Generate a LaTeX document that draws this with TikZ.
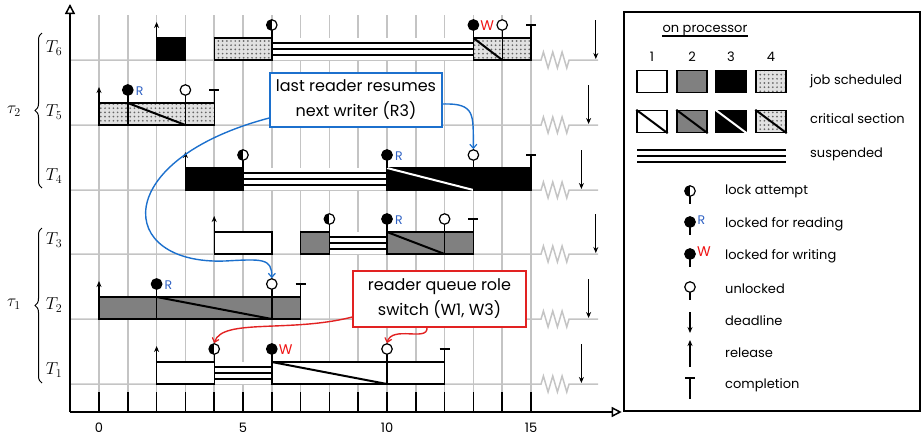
\documentclass[tikz,border=0pt]{standalone}
\usepackage{fontspec}
\setsansfont{Poppins}
\usetikzlibrary{arrows.meta,patterns.meta,decorations.pathreplacing}

\definecolor{noteblue}{RGB}{28,112,205}
\definecolor{notered}{RGB}{226,34,34}
\definecolor{readblue}{RGB}{48,98,196}
\definecolor{writered}{RGB}{240,20,20}
\definecolor{gridgray}{RGB}{196,196,196}
\definecolor{procgray}{RGB}{128,128,128}
\definecolor{dotbg}{RGB}{225,225,225}

\tikzset{
  boxline/.style={line width=1.4pt, draw=black},
  proc1/.style={boxline, fill=white},
  proc2/.style={boxline, fill=procgray},
  proc3/.style={boxline, fill=black},
  proc4/.style={boxline, preaction={fill=dotbg},
    pattern={Dots[distance=4.2pt, radius=0.95pt]}, pattern color=black!60},
  diag/.style={line width=2pt, draw=black},
  diagw/.style={line width=2pt, draw=white},
  suspline/.style={line width=1.8pt, draw=black},
  stem/.style={line width=1.4pt, draw=black},
  pinhead/.style={circle, draw=black, line width=1.2pt, minimum size=10.5pt, inner sep=0pt},
  lockatt/.style={pinhead, fill=white, path picture={\fill[black]
    (path picture bounding box.south) rectangle (path picture bounding box.north west);}},
  lockheld/.style={pinhead, fill=black},
  unlockpin/.style={pinhead, fill=white},
  rlab/.style={anchor=west, inner sep=0.5pt, text=readblue, font=\sffamily\fontsize{12.5}{12.5}\selectfont},
  wlab/.style={anchor=west, inner sep=0.5pt, text=writered, font=\sffamily\fontsize{14}{14}\selectfont},
  relarrow/.style={line width=1.3pt, -{Stealth[length=6pt, width=5pt]}},
  dlarrow/.style={line width=1.3pt, -{Stealth[length=6pt, width=5pt]}},
  gridline/.style={draw=gridgray, line width=1.5pt},
  axisline/.style={line width=1.8pt, -{Triangle[open, length=10pt, width=10pt, line width=1.5pt]}},
  tick/.style={line width=1.5pt},
  ticklab/.style={font=\sffamily\fontsize{13}{13}\selectfont},
  tasklab/.style={font=\fontsize{18}{18}\selectfont},
  lbl/.style={font=\sffamily\fontsize{13}{15}\selectfont, inner sep=0pt},
  callout/.style={draw, line width=1.5pt, fill=white, align=center,
    font=\sffamily\fontsize{16}{25}\selectfont, inner sep=0pt},
  notearrow/.style={line width=1.4pt, -{Straight Barb[length=4pt, width=7pt, line width=1.2pt]}},
  legsq/.style={minimum width=30pt, minimum height=22pt}
}

% one scheduled interval: style, start, end, baseline
\newcommand\job[4]{\draw[#1] (#2,{#4-22}) rectangle (#3,#4);}
% critical section: box style, start, end, baseline, diagonal style
\newcommand\csec[5]{\draw[#1] (#2,{#4-22}) rectangle (#3,#4);
  \draw[#5] (#2,{#4-22}) -- (#3,#4);}
% suspension: start, end, baseline
\newcommand\susp[3]{\fill[white] (#1,{#3-22}) rectangle (#2,#3);
  \foreach \dy in {5,11,17}{\draw[suspline] (#1,{#3-22+\dy}) -- (#2,{#3-22+\dy});}}
% lock pin: style, name, time, baseline
\newcommand\lockpin[4]{\draw[stem] (#3,{#4-22}) -- (#3,{#4-35});
  \node[#1] (#2) at (#3,{#4-35}) {};}
\newcommand\release[2]{\draw[relarrow] (#1,{#2-22}) -- (#1,{#2-38});}
\newcommand\finish[2]{\draw[stem] (#1,{#2-22}) -- (#1,{#2-35}) ++(-5pt,0) -- ++(10pt,0);}
\newcommand\deadline[2]{\draw[dlarrow] (#1,{#2-40}) -- (#1,{#2-1});}
% task baseline with the zigzag break
\newcommand\taskline[1]{\draw[gridline] (-1.007,#1) -- (15.35,#1)
  -- ++(2.33pt,8pt) -- ++(4.67pt,-16pt) -- ++(4.67pt,16pt) -- ++(4.67pt,-16pt)
  -- ++(4.67pt,16pt) -- ++(4.67pt,-16pt) -- ++(2.33pt,8pt) -- (17.33,#1);}

\begin{document}
\begin{tikzpicture}[x=1pt, y=-1pt]
\useasboundingbox (0,0) rectangle (922,440);

% ---------------- schedule ----------------
\begin{scope}[xshift=99pt, x=28.8pt]
  % grid
  \foreach \t in {0,...,15}{\draw[gridline] (\t,15) -- (\t,412);}
  \foreach \b in {60,125,190,254,319,384}{\taskline{\b}}
  % axes
  \draw[axisline] (-1.007,412) -- (-1.007,4);
  \draw[axisline] (-1.024,412) -- (18.15,412);
  \foreach \t in {0,...,15}{\draw[tick] (\t,392) -- (\t,412);}
  \foreach \t in {0,5,10,15}{\node[ticklab] (tl\t) at (\t,428) {\t};}

  % T6
  \release{2}{60}
  \susp{6}{13}{60}
  \job{proc3}{2}{3}{60}
  \job{proc4}{4}{6}{60}
  \csec{proc4}{13}{14}{60}{diag}
  \job{proc4}{14}{15}{60}
  \lockpin{lockatt}{a6}{6}{60}
  \lockpin{lockheld}{h6}{13}{60}
  \node[wlab] (w6) at ([xshift=0.5pt,yshift=-1pt]h6.east) {W};
  \lockpin{unlockpin}{u6}{14}{60}
  \finish{15}{60}
  \deadline{17.25}{60}

  % T5
  \release{0}{125}
  \job{proc4}{0}{1}{125}
  \csec{proc4}{1}{3}{125}{diag}
  \job{proc4}{3}{4}{125}
  \lockpin{lockheld}{h5}{1}{125}
  \node[rlab] (r5) at ([xshift=1.5pt,yshift=-1pt]h5.east) {R};
  \lockpin{unlockpin}{u5}{3}{125}
  \finish{4}{125}
  \deadline{17}{125}

  % T4
  \release{3}{190}
  \susp{5}{10}{190}
  \job{proc3}{3}{5}{190}
  \csec{proc3}{10}{13}{190}{diagw}
  \job{proc3}{13}{15}{190}
  \lockpin{lockatt}{a4}{5}{190}
  \lockpin{lockheld}{h4}{10}{190}
  \node[rlab] (r4) at ([xshift=1.5pt,yshift=-1pt]h4.east) {R};
  \lockpin{unlockpin}{u4}{13}{190}
  \finish{15}{190}
  \deadline{16.75}{190}

  % T3
  \release{4}{254}
  \susp{8}{10}{254}
  \job{proc1}{4}{6}{254}
  \job{proc2}{7}{8}{254}
  \csec{proc2}{10}{12}{254}{diag}
  \job{proc2}{12}{13}{254}
  \lockpin{lockatt}{a3}{8}{254}
  \lockpin{lockheld}{h3}{10}{254}
  \node[rlab] (r3) at ([xshift=1.5pt,yshift=-1pt]h3.east) {R};
  \lockpin{unlockpin}{u3}{12}{254}
  \finish{13}{254}
  \deadline{17.25}{254}

  % T2
  \release{0}{319}
  \job{proc2}{0}{2}{319}
  \csec{proc2}{2}{6}{319}{diag}
  \job{proc2}{6}{7}{319}
  \lockpin{lockheld}{h2}{2}{319}
  \node[rlab] (r2) at ([xshift=1.5pt,yshift=-1pt]h2.east) {R};
  \lockpin{unlockpin}{u2}{6}{319}
  \finish{7}{319}
  \deadline{17}{319}

  % T1
  \release{2}{384}
  \susp{4}{6}{384}
  \job{proc1}{2}{4}{384}
  \csec{proc1}{6}{10}{384}{diag}
  \job{proc1}{10}{12}{384}
  \lockpin{lockatt}{a1}{4}{384}
  \lockpin{lockheld}{h1}{6}{384}
  \node[wlab] (w1) at ([xshift=0.5pt,yshift=-1pt]h1.east) {W};
  \lockpin{unlockpin}{u1}{10}{384}
  \finish{12}{384}
  \deadline{16.75}{384}
\end{scope}

% task and group labels
\foreach \n/\y in {6/48,5/112,4/176,3/240,2/305,1/370}{
  \node[tasklab] (T\n) at (54,\y) {$T_{\n}$};}
\node[tasklab] (tau2) at (14,111) {$\tau_2$};
\node[tasklab] (tau1) at (14,304) {$\tau_1$};
\draw[line width=1pt, decorate, decoration={brace, amplitude=7pt}] (42,188) -- (42,33);
\draw[line width=1pt, decorate, decoration={brace, amplitude=7pt}] (42,383) -- (42,228);

% ---------------- notes ----------------
\node[callout, draw=noteblue, minimum width=172pt, minimum height=54pt] (nb) at (356,100)
  {last reader resumes\\next writer (R3)};
\draw[notearrow, noteblue] ([yshift=-4pt]nb.east) .. controls (476,103) and (473,115) .. (u4.north);
\draw[notearrow, noteblue] ([yshift=-18pt]nb.west) .. controls (110,160) and (115,265) .. (225,261)
  .. controls (262,259) and (272,258) .. (u2.north);

\node[callout, draw=notered, minimum width=173pt, minimum height=56pt] (nr) at (439.5,299)
  {reader queue role\\switch (W1, W3)};
\draw[notearrow, notered] ([yshift=-18pt]nr.west) .. controls (290,333) and (222,318) .. (a1.north);
\draw[notearrow, notered] ([xshift=-12.5pt]nr.south) .. controls (428,342) and (392,325) .. (u1.north);

% ---------------- legend ----------------
\draw[line width=1.8pt, fill=white] (624,12) rectangle (920,411);
\node[lbl] (onproc) at (705,31) {on processor};
\draw[line width=1.4pt] ([yshift=-3pt]onproc.base west) -- ([yshift=-3pt]onproc.base east);
\foreach \i/\x in {1/652,2/692,3/731,4/771}{\node[lbl] (num\i) at (\x,57) {\i};}
\foreach \s/\x in {1/652,2/692,3/731,4/771}{
  \node[legsq, proc\s] (js\s) at (\x,81.5) {};
  \node[legsq, proc\s] (cs\s) at (\x,121.5) {};}
\draw[diag] (cs1.north west) -- (cs1.south east);
\draw[diag] (cs2.north west) -- (cs2.south east);
\draw[diagw] (cs3.north west) -- (cs3.south east);
\draw[diag] (cs4.north west) -- (cs4.south east);
\foreach \y in {150,156,162}{\draw[suspline] (637,\y) -- (786,\y);}
\node[lbl, anchor=west] (ljob) at (810,81) {job scheduled};
\node[lbl, anchor=west] (lcrit) at (810,119) {critical section};
\node[lbl, anchor=west] (lsusp) at (810,154) {suspended};

\draw[stem] (690,191) -- (690,204);
\node[lockatt] (la) at (690,191) {};
\draw[stem] (690,222) -- (690,235);
\node[lockheld] (lr) at (690,222) {};
\node[rlab] (lrR) at ([xshift=1pt,yshift=2pt]lr.east) {R};
\draw[stem] (690,254) -- (690,267);
\node[lockheld] (lw) at (690,254) {};
\node[wlab] (lwW) at ([xshift=0.5pt,yshift=2pt]lw.east) {W};
\draw[stem] (690,287) -- (690,300);
\node[unlockpin] (lu) at (690,287) {};
\draw[dlarrow] (690,312) -- (690,333);
\draw[relarrow] (690,367) -- (690,340);
\draw[stem] (690,399) -- (690,378) ++(-5pt,0) -- ++(10pt,0);

\node[lbl, anchor=west] (tla) at (725,191) {lock attempt};
\node[lbl, anchor=west] (tlr) at (725,224) {locked for reading};
\node[lbl, anchor=west] (tlw) at (725,256) {locked for writing};
\node[lbl, anchor=west] (tlu) at (725,289) {unlocked};
\node[lbl, anchor=west] (tld) at (725,321) {deadline};
\node[lbl, anchor=west] (tlrl) at (725,353) {release};
\node[lbl, anchor=west] (tlc) at (725,385) {completion};
\end{tikzpicture}
\end{document}
